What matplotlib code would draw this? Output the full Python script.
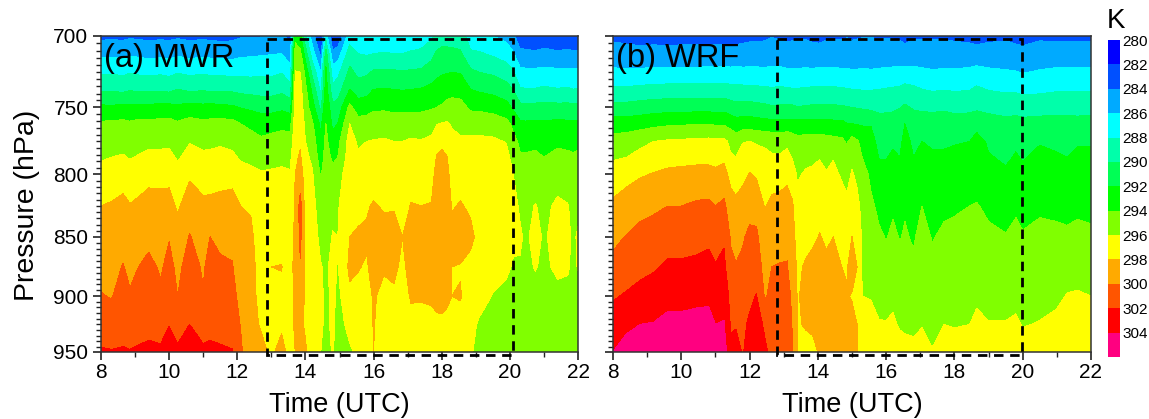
import numpy as np
import matplotlib
matplotlib.use('Agg')
import matplotlib.pyplot as plt
from matplotlib.patches import Rectangle
from matplotlib.ticker import FixedFormatter, FixedLocator, MultipleLocator, NullFormatter

plt.rcParams['font.family'] = ['Liberation Sans', 'DejaVu Sans']

# pressure levels of the grid (hPa), same for both panels
pressure = [700, 712, 725, 737, 750, 762, 775, 787, 800, 825, 850, 875, 900, 925, 950]

# temperature bands (K) and colours
levels = list(range(280, 308, 2))
colors = ['#0000ff', '#0050ff', '#00aaff', '#00ffff', '#00ffaa', '#00ff55', '#00ff00',
          '#80ff00', '#ffff00', '#ffaa00', '#ff5500', '#ff0000', '#ff0080']

box_a = [12.87, 20.09]
box_b = [12.80, 19.98]

# (a) MWR, one row per time
mwr_time = [8.0, 8.3, 8.65, 8.85, 9.1, 9.4, 9.75, 10.0, 10.25, 10.6, 11.0, 11.2, 11.5, 11.85, 12.1, 12.4,
            12.7, 13.0, 13.3, 13.55, 13.7, 13.85, 14.0, 14.2, 14.45, 14.6, 14.8, 14.95, 15.3, 15.55, 15.8,
            16.0, 16.3, 16.6, 16.85, 17.1, 17.4, 17.7, 17.85, 18.0, 18.15, 18.3, 18.55, 18.85, 19.1, 19.5, 19.9, 20.1,
            20.3, 20.45, 20.75, 21.0, 21.4, 21.7, 21.85, 22.0]
mwr_temp = [
    [283.5, 285.5, 287.7, 289.6, 292.4, 294.3, 295.1, 295.8, 296.6, 298.0, 298.7, 299.4, 300.1, 301.1, 302.2],
    [283.6, 285.6, 287.8, 289.7, 292.3, 294.4, 295.3, 296.0, 296.8, 298.2, 298.8, 299.4, 299.9, 301.0, 302.1],
    [283.5, 285.5, 287.6, 289.5, 292.5, 294.5, 295.6, 296.1, 297.2, 298.5, 299.2, 300.1, 300.6, 301.2, 302.2],
    [283.7, 285.7, 287.9, 289.8, 292.4, 294.3, 295.3, 295.9, 296.8, 298.1, 298.8, 299.5, 300.2, 301.0, 302.1],
    [283.6, 285.6, 287.7, 289.6, 292.5, 294.6, 295.5, 296.1, 297.0, 298.4, 299.2, 300.0, 300.7, 301.4, 302.2],
    [283.5, 285.4, 287.6, 289.6, 292.5, 294.6, 295.7, 296.3, 297.4, 298.8, 299.6, 300.4, 300.9, 301.6, 302.3],
    [283.6, 285.5, 287.7, 289.7, 292.6, 294.6, 295.7, 296.3, 297.4, 298.7, 299.4, 299.8, 300.3, 301.3, 302.3],
    [283.5, 285.4, 287.5, 289.5, 292.6, 294.7, 295.7, 296.4, 297.4, 298.8, 299.9, 300.5, 301.0, 301.95, 302.6],
    [283.7, 285.7, 287.9, 290.0, 292.4, 294.3, 295.2, 295.8, 296.6, 297.7, 298.9, 299.6, 300.0, 301.3, 302.3],
    [283.5, 285.4, 287.6, 289.6, 292.7, 294.8, 295.9, 296.6, 297.7, 299.1, 300.1, 300.7, 301.2, 302.0, 302.6],
    [283.6, 285.6, 287.8, 289.8, 292.5, 294.5, 295.6, 296.3, 297.2, 298.4, 299.2, 299.8, 300.1, 301.3, 302.3],
    [283.5, 285.5, 287.6, 289.6, 292.6, 294.6, 295.7, 296.3, 297.1, 298.5, 300.0, 300.6, 301.1, 301.6, 302.3],
    [283.4, 285.4, 287.6, 289.6, 292.5, 294.7, 295.8, 296.4, 297.3, 298.6, 299.6, 300.3, 300.8, 301.5, 302.2],
    [283.5, 285.3, 287.5, 289.6, 292.3, 294.6, 295.6, 296.3, 297.4, 298.7, 299.6, 300.1, 300.5, 301.2, 302.1],
    [283.8, 285.6, 287.5, 289.4, 291.9, 294.0, 295.0, 295.8, 296.7, 298.0, 298.6, 299.1, 299.5, 299.9, 300.3],
    [283.8, 285.7, 287.5, 289.3, 291.6, 293.6, 294.7, 295.5, 296.5, 297.9, 298.2, 298.3, 298.3, 298.3, 298.6],
    [283.9, 285.8, 287.6, 289.2, 291.3, 293.2, 294.3, 295.1, 296.2, 297.0, 297.4, 297.6, 297.7, 297.9, 298.3],
    [284.0, 285.9, 287.6, 289.2, 291.3, 293.3, 294.6, 295.3, 296.3, 297.2, 298.0, 298.0, 297.7, 297.6, 297.8],
    [284.2, 286.0, 287.9, 289.5, 291.6, 293.5, 294.8, 295.5, 296.4, 297.3, 297.4, 298.05, 297.7, 297.8, 298.4],
    [283.5, 285.0, 286.8, 288.8, 291.2, 293.4, 294.7, 295.5, 296.2, 296.9, 297.1, 297.3, 297.3, 297.3, 297.6],
    [293.5, 294.8, 296.1, 296.5, 296.8, 297.1, 297.4, 297.7, 298.0, 298.2, 298.4, 298.6, 298.3, 298.3, 298.0],
    [292.5, 294.5, 296.0, 296.6, 297.0, 297.5, 297.8, 298.2, 299.0, 300.7, 300.5, 299.8, 299.0, 298.3, 298.6],
    [288.5, 291.0, 293.5, 294.5, 295.0, 295.5, 296.0, 296.5, 297.0, 297.2, 297.3, 297.5, 297.7, 297.8, 298.2],
    [285.0, 287.0, 289.5, 291.5, 293.0, 294.3, 295.0, 295.6, 296.2, 296.8, 297.0, 297.2, 297.3, 297.2, 297.2],
    [281.5, 283.5, 286.0, 287.5, 289.5, 291.5, 292.5, 293.0, 293.8, 294.8, 295.5, 296.1, 296.5, 296.5, 296.0],
    [287.0, 291.0, 292.5, 293.0, 293.8, 294.0, 294.5, 294.8, 295.0, 295.2, 295.4, 295.7, 295.5, 295.4, 295.1],
    [282.0, 284.5, 287.0, 288.5, 290.5, 291.6, 292.8, 293.6, 294.6, 295.6, 296.1, 296.5, 296.5, 296.5, 296.2],
    [282.5, 285.0, 287.5, 289.0, 290.8, 292.0, 293.4, 294.0, 295.0, 295.8, 296.0, 295.9, 295.5, 295.2, 295.0],
    [287.0, 289.0, 290.5, 292.0, 294.5, 296.0, 296.8, 297.0, 297.4, 297.7, 298.0, 298.4, 297.6, 296.6, 295.7],
    [286.5, 288.0, 289.5, 291.0, 293.0, 294.8, 295.7, 296.3, 297.0, 297.6, 298.2, 298.1, 297.5, 297.0, 296.4],
    [286.3, 287.8, 289.7, 291.2, 293.2, 294.9, 296.0, 296.5, 297.0, 297.8, 298.3, 297.8, 297.3, 297.0, 296.8],
    [286.5, 288.0, 290.3, 292.0, 293.7, 295.0, 296.1, 296.6, 297.0, 298.2, 298.9, 298.7, 298.2, 298.1, 298.0],
    [286.7, 288.1, 290.4, 292.1, 293.7, 295.1, 296.2, 296.7, 297.1, 297.8, 298.7, 298.2, 297.5, 297.1, 296.9],
    [286.6, 288.0, 290.3, 292.0, 293.5, 295.0, 296.0, 296.6, 297.0, 297.9, 298.5, 298.4, 297.7, 297.0, 296.8],
    [286.6, 288.0, 290.2, 291.9, 293.5, 295.0, 296.0, 296.6, 297.0, 297.3, 298.0, 297.6, 297.2, 297.0, 296.8],
    [286.9, 288.2, 290.3, 292.0, 293.5, 295.1, 296.2, 296.8, 297.2, 298.1, 298.8, 298.7, 298.2, 297.4, 296.8],
    [287.0, 288.4, 290.4, 292.1, 293.6, 295.0, 296.1, 296.7, 297.2, 298.0, 298.7, 298.8, 298.2, 297.3, 296.8],
    [287.6, 289.4, 291.0, 292.5, 293.8, 295.3, 296.4, 296.8, 297.3, 298.1, 298.8, 298.7, 298.2, 297.6, 297.0],
    [288.4, 290.3, 291.5, 292.8, 294.0, 295.9, 297.2, 298.1, 298.6, 299.0, 299.2, 299.0, 298.4, 297.7, 297.1],
    [288.9, 290.7, 291.8, 293.0, 294.2, 296.1, 297.6, 298.4, 298.9, 299.2, 299.4, 299.2, 298.5, 297.7, 297.1],
    [288.9, 290.7, 291.9, 293.2, 294.6, 296.2, 297.2, 298.1, 298.5, 298.8, 299.0, 298.8, 298.3, 297.6, 297.0],
    [288.6, 290.7, 292.0, 293.4, 294.7, 295.8, 296.6, 296.9, 297.3, 297.9, 298.4, 298.0, 298.0, 297.5, 297.0],
    [289.0, 290.3, 291.9, 293.3, 294.6, 295.3, 296.3, 297.0, 297.5, 298.1, 298.8, 297.9, 298.1, 297.5, 297.0],
    [286.9, 288.3, 290.4, 292.0, 293.7, 295.1, 296.5, 297.2, 297.6, 297.8, 298.3, 297.6, 297.0, 296.7, 296.2],
    [286.5, 288.2, 290.0, 291.7, 293.6, 295.2, 296.4, 297.1, 297.5, 297.6, 297.6, 297.3, 296.9, 295.7, 295.4],
    [286.0, 287.7, 289.7, 291.4, 293.3, 295.1, 296.3, 297.0, 297.5, 297.5, 297.4, 296.9, 295.9, 295.5, 295.5],
    [285.4, 287.1, 289.0, 290.8, 292.7, 294.6, 295.9, 296.6, 297.1, 297.2, 297.1, 296.2, 295.7, 295.5, 295.5],
    [284.3, 286.2, 288.2, 289.9, 291.7, 293.5, 294.6, 295.3, 296.0, 296.7, 296.2, 295.9, 295.6, 295.5, 295.6],
    [283.0, 284.4, 286.6, 288.2, 290.6, 292.4, 293.6, 294.2, 294.8, 295.7, 296.3, 295.8, 295.3, 295.4, 295.6],
    [283.1, 284.3, 286.5, 288.1, 290.5, 292.3, 293.5, 294.2, 294.7, 295.4, 295.7, 295.6, 295.3, 295.4, 295.6],
    [283.0, 284.2, 286.5, 288.1, 290.6, 292.4, 293.6, 294.3, 294.8, 296.1, 296.5, 296.1, 295.4, 295.4, 295.6],
    [283.1, 284.4, 286.6, 288.3, 290.7, 292.3, 293.3, 294.0, 294.7, 295.5, 295.8, 295.7, 295.3, 295.4, 295.6],
    [283.0, 284.2, 286.5, 288.1, 290.6, 292.5, 293.7, 294.4, 295.1, 296.4, 296.6, 296.3, 295.6, 295.4, 295.6],
    [283.1, 284.3, 286.5, 288.2, 290.6, 292.4, 293.6, 294.3, 294.9, 296.1, 296.4, 296.2, 295.5, 295.4, 295.6],
    [283.0, 284.2, 286.4, 288.0, 290.5, 292.3, 293.5, 294.2, 294.7, 295.5, 295.7, 295.6, 295.3, 295.4, 295.6],
    [283.0, 284.2, 286.5, 288.1, 290.6, 292.4, 293.6, 294.3, 294.8, 295.6, 296.2, 296.1, 295.3, 295.4, 295.6],
]

# (b) WRF
wrf_time = [8.0, 8.4, 8.8, 9.2, 9.6, 10.0, 10.45, 10.8, 11.0, 11.25, 11.45, 11.6, 11.8, 12.0, 12.2, 12.45,
            12.65, 12.9, 13.1, 13.25, 13.4, 13.65, 13.85, 14.05, 14.25, 14.45, 14.7, 14.85, 15.0, 15.15, 15.3,
            15.55, 15.8, 16.0, 16.2, 16.4, 16.55, 16.8, 17.05, 17.35, 17.7, 18.0, 18.45, 18.65, 19.0, 19.5,
            19.8, 20.0, 20.5, 21.0, 21.3, 21.6, 22.0]
wrf_temp = [
    [283.6, 284.8, 286.4, 288.3, 290.6, 293.0, 294.8, 295.8, 296.8, 298.4, 299.5, 300.6, 301.8, 302.9, 304.0],
    [283.5, 284.6, 286.3, 288.3, 290.7, 293.0, 295.0, 296.0, 297.4, 298.9, 300.1, 301.1, 302.2, 303.5, 305.0],
    [283.4, 284.5, 286.4, 288.5, 290.9, 293.2, 295.5, 296.6, 297.8, 299.5, 300.5, 301.5, 302.6, 304.0, 305.3],
    [283.4, 284.6, 286.5, 288.6, 291.1, 293.5, 296.0, 297.1, 298.1, 299.7, 300.8, 301.8, 302.9, 304.1, 305.4],
    [283.4, 284.5, 286.5, 288.7, 291.2, 293.7, 296.2, 297.3, 298.4, 300.0, 301.2, 302.3, 303.4, 304.5, 305.6],
    [283.4, 284.6, 286.5, 288.7, 291.2, 293.8, 296.3, 297.4, 298.5, 300.0, 301.2, 302.3, 303.4, 304.5, 305.6],
    [283.3, 284.7, 286.5, 288.8, 291.3, 293.9, 296.4, 297.5, 298.6, 300.3, 301.4, 302.4, 303.5, 304.7, 305.7],
    [283.1, 284.8, 286.5, 288.8, 291.3, 293.9, 296.5, 297.5, 298.6, 300.4, 301.6, 302.6, 303.6, 304.7, 305.8],
    [283.4, 284.7, 286.5, 288.7, 291.2, 293.8, 296.4, 297.4, 298.4, 300.0, 301.4, 302.1, 303.2, 304.0, 304.9],
    [283.4, 284.7, 286.6, 288.8, 291.3, 293.8, 296.5, 297.6, 298.7, 300.4, 301.7, 302.5, 303.4, 304.1, 305.0],
    [283.4, 284.7, 286.5, 288.6, 290.9, 293.3, 295.5, 296.2, 297.3, 298.9, 299.8, 300.4, 301.3, 301.8, 302.4],
    [283.2, 284.8, 286.6, 288.6, 290.6, 292.9, 295.0, 296.0, 297.0, 298.5, 299.4, 300.1, 301.0, 301.9, 302.5],
    [283.5, 284.7, 286.5, 288.5, 290.7, 293.0, 295.9, 296.8, 297.5, 298.9, 299.8, 300.4, 301.0, 301.6, 301.9],
    [283.6, 284.8, 286.5, 288.5, 290.7, 293.0, 296.0, 297.1, 298.1, 299.4, 300.4, 300.8, 301.6, 302.3, 302.6],
    [283.6, 284.8, 286.5, 288.4, 290.6, 292.9, 295.8, 296.8, 297.8, 299.2, 300.4, 301.0, 302.1, 303.0, 303.2],
    [283.7, 284.8, 286.4, 288.3, 290.4, 292.7, 295.7, 296.4, 297.0, 297.9, 298.6, 299.3, 299.8, 301.6, 302.4],
    [283.9, 285.0, 286.5, 288.2, 290.2, 292.7, 295.4, 296.2, 297.1, 298.5, 299.3, 300.0, 300.5, 300.9, 301.4],
    [283.8, 284.9, 286.5, 288.3, 290.3, 292.6, 295.3, 296.2, 297.2, 298.7, 299.4, 300.1, 301.0, 301.2, 301.4],
    [283.6, 284.8, 286.3, 288.2, 290.3, 292.7, 295.6, 296.5, 297.6, 298.7, 299.6, 300.1, 300.8, 301.0, 301.0],
    [283.7, 284.8, 286.3, 288.1, 290.3, 292.6, 295.2, 295.9, 296.9, 298.3, 298.8, 299.2, 299.6, 299.9, 300.2],
    [283.7, 284.8, 286.3, 288.1, 290.1, 292.6, 294.7, 295.3, 295.8, 296.6, 297.2, 297.7, 297.9, 297.9, 297.9],
    [283.8, 284.8, 286.4, 288.2, 290.2, 292.7, 294.8, 295.6, 296.2, 297.0, 297.5, 298.2, 298.3, 298.1, 297.6],
    [283.5, 284.8, 286.3, 288.3, 290.3, 292.7, 294.8, 295.6, 296.4, 297.1, 297.6, 298.7, 298.6, 298.2, 297.7],
    [283.4, 284.9, 286.4, 288.3, 290.3, 292.7, 294.9, 295.9, 296.6, 297.4, 298.1, 298.7, 298.7, 298.2, 298.1],
    [283.7, 284.9, 286.4, 288.3, 290.3, 292.7, 294.7, 295.6, 296.1, 297.1, 297.7, 298.4, 298.7, 298.8, 298.8],
    [283.8, 284.9, 286.4, 288.3, 290.3, 292.5, 294.6, 295.9, 296.4, 297.3, 298.0, 298.5, 298.7, 298.9, 299.0],
    [283.8, 284.9, 286.3, 288.2, 290.2, 292.5, 294.4, 295.2, 295.8, 296.7, 297.5, 298.0, 298.6, 299.0, 299.1],
    [283.9, 284.9, 286.3, 288.1, 290.1, 292.1, 293.8, 294.6, 295.3, 296.5, 297.3, 297.9, 298.1, 298.7, 299.1],
    [283.7, 284.9, 286.2, 288.0, 290.0, 292.0, 294.7, 295.4, 296.2, 297.3, 298.0, 298.6, 297.9, 298.4, 299.1],
    [283.8, 284.9, 286.2, 288.0, 289.9, 291.9, 294.2, 294.9, 295.6, 296.5, 297.5, 298.0, 298.0, 298.0, 298.0],
    [283.9, 285.0, 286.3, 287.9, 289.8, 291.8, 293.4, 294.0, 294.9, 295.5, 295.7, 295.8, 296.0, 297.0, 297.2],
    [283.9, 284.9, 286.2, 287.9, 289.6, 291.9, 292.7, 293.1, 293.6, 294.4, 295.0, 295.5, 295.9, 296.6, 297.1],
    [283.9, 284.6, 286.4, 288.0, 289.6, 290.7, 291.4, 291.9, 292.6, 293.5, 294.3, 295.0, 295.5, 296.1, 296.9],
    [283.9, 284.5, 286.5, 288.1, 289.7, 290.6, 291.3, 291.9, 292.5, 293.3, 293.9, 294.7, 295.4, 296.1, 296.8],
    [283.9, 284.5, 286.6, 288.2, 289.7, 290.8, 291.7, 292.3, 292.8, 293.7, 294.4, 295.0, 295.6, 296.3, 297.0],
    [283.8, 284.6, 286.7, 288.3, 289.9, 291.3, 291.6, 292.0, 292.6, 293.5, 293.9, 294.7, 295.3, 295.8, 296.8],
    [283.7, 284.4, 286.7, 288.6, 290.3, 292.0, 292.5, 292.8, 293.1, 293.8, 294.2, 294.8, 295.2, 295.7, 296.6],
    [283.8, 284.7, 286.6, 288.4, 289.8, 291.0, 291.7, 292.0, 292.4, 293.3, 293.8, 294.3, 294.9, 295.6, 296.5],
    [283.8, 284.8, 286.4, 288.0, 289.7, 290.9, 292.0, 292.4, 292.9, 294.0, 294.6, 295.0, 295.5, 295.9, 296.7],
    [283.8, 284.9, 286.2, 287.8, 289.6, 290.9, 291.8, 292.2, 292.7, 293.5, 293.9, 294.4, 295.0, 295.5, 296.1],
    [283.8, 284.8, 286.3, 287.9, 289.7, 291.0, 291.8, 292.2, 292.7, 293.7, 294.3, 294.8, 295.3, 296.0, 296.9],
    [283.7, 284.7, 286.3, 287.8, 289.5, 290.8, 291.9, 292.3, 292.8, 293.8, 294.4, 294.9, 295.4, 295.9, 296.7],
    [283.6, 284.6, 286.5, 287.9, 289.5, 291.0, 292.0, 292.3, 292.9, 294.0, 294.6, 295.0, 295.4, 296.0, 296.9],
    [283.5, 284.5, 286.8, 288.3, 289.6, 291.5, 292.5, 292.9, 293.2, 294.1, 294.7, 295.1, 295.7, 296.4, 297.1],
    [283.6, 284.7, 286.4, 287.9, 289.5, 290.8, 291.8, 292.1, 292.6, 293.7, 294.3, 294.9, 295.3, 296.1, 297.0],
    [283.7, 284.8, 286.2, 287.7, 289.2, 290.6, 291.5, 291.8, 292.2, 293.3, 294.1, 294.8, 295.3, 296.1, 297.0],
    [283.4, 284.7, 286.1, 287.7, 289.3, 290.7, 291.8, 292.1, 292.7, 293.7, 294.5, 295.0, 295.5, 296.3, 297.1],
    [283.0, 284.8, 285.9, 287.5, 289.1, 290.6, 291.6, 291.9, 292.3, 293.3, 294.2, 294.8, 295.3, 295.9, 296.8],
    [283.7, 284.8, 286.2, 287.6, 289.2, 290.7, 291.9, 292.3, 292.8, 293.7, 294.5, 295.0, 295.4, 296.1, 297.0],
    [283.6, 284.8, 286.4, 287.8, 289.3, 290.8, 291.8, 292.1, 292.6, 293.6, 294.4, 295.0, 295.6, 296.5, 297.3],
    [283.6, 284.8, 286.4, 287.8, 289.3, 290.8, 291.7, 292.0, 292.3, 293.5, 294.3, 295.2, 296.1, 296.9, 297.6],
    [283.6, 284.9, 286.4, 287.8, 289.2, 290.7, 291.9, 292.2, 292.7, 293.7, 294.4, 295.2, 296.2, 297.0, 297.7],
    [283.6, 284.9, 286.4, 287.8, 289.3, 290.8, 291.9, 292.2, 292.7, 293.6, 294.3, 295.2, 296.0, 296.9, 297.6],
]

W, H = 1149, 419
fig = plt.figure(figsize=(W / 100, H / 100), dpi=100)


def axes_px(x0, y0, x1, y1):
    return fig.add_axes([x0 / W, 1 - y1 / H, (x1 - x0) / W, (y1 - y0) / H])


def panel(ax, time, temp, box, label):
    cf = ax.contourf(time, pressure, np.array(temp).T, levels=levels, colors=colors)
    ax.set_yscale('log')
    ax.set_ylim(950, 700)
    ax.set_xlim(8, 22)
    ax.xaxis.set_major_locator(MultipleLocator(2))
    ax.xaxis.set_minor_locator(MultipleLocator(1))
    ax.yaxis.set_major_locator(FixedLocator([700, 750, 800, 850, 900, 950]))
    ax.yaxis.set_minor_locator(FixedLocator(list(range(700, 955, 5))))
    ax.yaxis.set_major_formatter(FixedFormatter(['700', '750', '800', '850', '900', '950']))
    ax.yaxis.set_minor_formatter(NullFormatter())
    ax.tick_params(which='major', length=6, width=1.2, color='#222222', labelsize=15, pad=3)
    ax.tick_params(which='minor', length=3.5, width=1.0, color='#222222')
    ax.tick_params(axis='x', which='major', pad=2)
    for s in ax.spines.values():
        s.set_linewidth(1.1)
        s.set_color('#333333')
    ax.set_xlabel('Time (UTC)', fontsize=19.5)
    ax.xaxis.set_label_coords(0.5, -0.125)
    ax.text(0.006, 0.93, label, transform=ax.transAxes, fontsize=23.5, va='center', ha='left')
    ax.add_patch(Rectangle((box[0], 702), box[1] - box[0], 953 - 702, fill=False, ec='black', lw=2,
                           ls=(0, (3.4, 2.4)), clip_on=False, zorder=5))
    return cf


ax1 = axes_px(101, 36, 578, 352)
ax2 = axes_px(613, 36, 1091, 352)
cf = panel(ax1, mwr_time, mwr_temp, box_a, '(a) MWR')
panel(ax2, wrf_time, wrf_temp, box_b, '(b) WRF')
ax1.set_ylabel('Pressure (hPa)', fontsize=20.5)
ax1.yaxis.set_label_coords(-0.127, 0.465)
ax2.set_yticklabels([])

cax = axes_px(1108, 40, 1120, 357)
cb = fig.colorbar(cf, cax=cax, ticks=levels[:-1], drawedges=False)
cax.invert_yaxis()
cb.outline.set_visible(False)
cax.tick_params(length=0, labelsize=11, pad=1.5)
fig.text(1116 / W, 1 - 21 / H, 'K', fontsize=20, ha='center', va='center')

fig.savefig('out.png', dpi=100)
